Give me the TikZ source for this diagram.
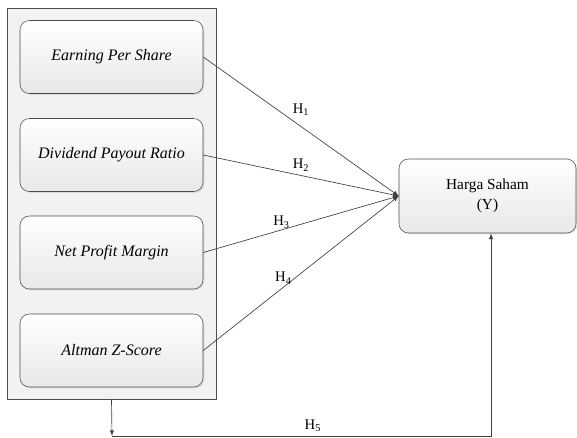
\documentclass[tikz,border=0pt]{standalone}
\usepackage{fontspec}
\setmainfont{Liberation Serif}
\usetikzlibrary{shadows}
\tikzset{>=latex}
\tikzset{
    frame/.style={draw=black!70, fill=black!5, minimum width=156.75pt, minimum height=293.25pt},
    var/.style={draw=black!70, rounded corners=7pt, top color=white, bottom color=black!9,
        minimum width=137.25pt, minimum height=54.75pt, font=\fontsize{12}{14}\selectfont\itshape,
        drop shadow={opacity=0.2, shadow xshift=1pt, shadow yshift=-1pt}},
    link/.style={->, draw=black!75, line width=0.5pt},
    hyp/.style={font=\fontsize{11}{13}\selectfont, inner sep=1pt}
}
\newcommand{\hy}[1]{H\textsubscript{#1}}

\begin{document}
\begin{tikzpicture}[x=0.75pt, y=-0.75pt]
    \useasboundingbox (0,0) rectangle (577,437);
    \node[frame] (grp) at (111.5,203.5) {};
    \node[var] (eps) at (111.5,57) {Earning Per Share};
    \node[var] (dpr) at (111.5,155) {Dividend Payout Ratio};
    \node[var] (npm) at (111.5,252.5) {Net Profit Margin};
    \node[var] (azs) at (111.5,350.5) {Altman Z-Score};
    \node[var, font=\fontsize{11.5}{13}\selectfont, align=center, minimum width=132.75pt, minimum height=55.5pt]
        (hs) at (487.5,196) {Harga Saham\\[2pt](Y)};
    \coordinate (c1) at (112,436);
    \coordinate (c2) at (491,436);
    % hipotesis
    \draw[link] (eps.east) -- node[hyp, pos=0.5, above=7pt] {\hy1} (hs.west);
    \draw[link] (dpr.east) -- node[hyp, pos=0.5, above=2pt] {\hy2} (hs.west);
    \draw[link] (npm.east) -- node[hyp, pos=0.4, above=0pt] {\hy3} (hs.west);
    \draw[link] (azs.east) -- node[hyp, pos=0.41, above=1pt] {\hy4} (hs.west);
    \draw[link] (grp.south) -- (c1);
    \draw[link] (c1) -- node[hyp, pos=0.53, above=2pt] {\hy5} (c2) -- (c2 |- hs.south);
\end{tikzpicture}
\end{document}
